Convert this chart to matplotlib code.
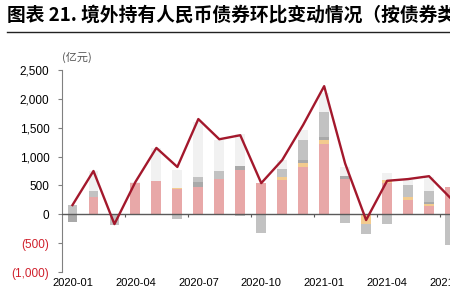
"""Foreign holdings of RMB bonds, month-on-month change by bond type"""

import numpy as np
import matplotlib
matplotlib.use("Agg")
import matplotlib.pyplot as plt
from matplotlib.ticker import FuncFormatter

plt.rcParams['font.family'] = ['Liberation Sans', 'Noto Sans CJK SC', 'DejaVu Sans']

months = ['2020-01', '2020-02', '2020-03', '2020-04', '2020-05', '2020-06',
          '2020-07', '2020-08', '2020-09', '2020-10', '2020-11', '2020-12',
          '2021-01', '2021-02', '2021-03', '2021-04', '2021-05', '2021-06',
          '2021-07']

# stacked components (亿元), bottom to top
pink = [0, 300, 0, 540, 580, 430, 470, 610, 765, 540, 590, 820,
        1220, 615, 0, 540, 240, 140, 470]
peach = [0, 0, 0, 0, 0, 20, 0, 10, 0, 0, 50, 70,
         70, 0, -160, 60, 60, 30, 0]
dark_gray = [-130, 0, 0, 0, 0, 0, 90, 0, 70, 0, 0, 50,
             55, 50, 0, 0, 0, 40, 0]
mid_gray = [160, 100, -190, 0, -20, -90, 80, 130, -30, -330, 140, 350,
            435, -150, -190, -160, 200, 190, -540]
light_gray = [0, 350, 0, 20, 570, 315, 960, 540, 555, 0, 160, 170,
              320, 150, 0, 110, 100, 250, 0]

total = [160, 750, -170, 560, 1150, 820, 1650, 1300, 1370, 540, 940, 1550,
         2220, 880, -100, 580, 610, 660, 290]

series = [
    (pink, '#E8A8A8'),
    (peach, '#F3CB8E'),
    (dark_gray, '#A9A9A9'),
    (mid_gray, '#C2C2C2'),
    (light_gray, '#F1F1F1'),
]


def fmt_y(v, pos):
    if v < 0:
        return '({:,.0f})'.format(-v)
    return '{:,.0f}'.format(v)


def main():
    fig = plt.figure(figsize=(4.5, 3), dpi=100)
    ax = fig.add_axes([62 / 450, 28 / 300, 388 / 450, 202 / 300])

    x = np.arange(len(months))
    pos_base = np.zeros(len(months))
    neg_base = np.zeros(len(months))
    for vals, color in series:
        v = np.array(vals, dtype=float)
        bottom = np.where(v >= 0, pos_base, neg_base)
        ax.bar(x, v, bottom=bottom, width=0.47, color=color, linewidth=0, zorder=2)
        pos_base += np.clip(v, 0, None)
        neg_base += np.clip(v, None, 0)

    ax.axhline(0, color='#5A5A5A', linewidth=1.0, zorder=3)
    ax.vlines(np.arange(2.5, len(months), 3), -50, 0, color='#5A5A5A',
              linewidth=0.8, zorder=3)
    ax.plot(x, total, color='#A3182C', linewidth=1.7, zorder=4)

    ax.set_xlim(-0.5, 18.0)
    ax.set_ylim(-1000, 2500)
    ax.set_yticks(np.arange(-1000, 2501, 500))
    ax.yaxis.set_major_formatter(FuncFormatter(fmt_y))
    ax.tick_params(axis='y', labelsize=8.5, length=3, color='#808080', pad=6)
    for lab in ax.get_yticklabels():
        if lab.get_text().startswith('('):
            lab.set_color('#D0202C')

    ax.set_xticks(x[::3])
    ax.set_xticklabels(months[::3])
    ax.tick_params(axis='x', labelsize=8, length=0, pad=4)

    for side in ['top', 'right', 'bottom']:
        ax.spines[side].set_visible(False)
    ax.spines['left'].set_color('#808080')
    ax.spines['left'].set_linewidth(0.8)

    ax.text(-0.5, 2620, '(亿元)', fontsize=8, color='#555555', style='italic',
            ha='left', va='bottom', family=['Noto Sans CJK SC', 'DejaVu Sans'])

    fig.text(7 / 450, 1 - 15 / 300, '图表 21. 境外持有人民币债券环比变动情况（按债券类型）',
             fontsize=13.5, fontweight='bold', ha='left', va='center',
             family=['Noto Sans CJK SC', 'DejaVu Sans'])
    fig.add_artist(plt.Line2D([7 / 450, 1.0], [1 - 32 / 300, 1 - 32 / 300],
                              color='#222222', linewidth=1.0))

    fig.savefig('out.png', dpi=100)


if __name__ == "__main__":
    main()
